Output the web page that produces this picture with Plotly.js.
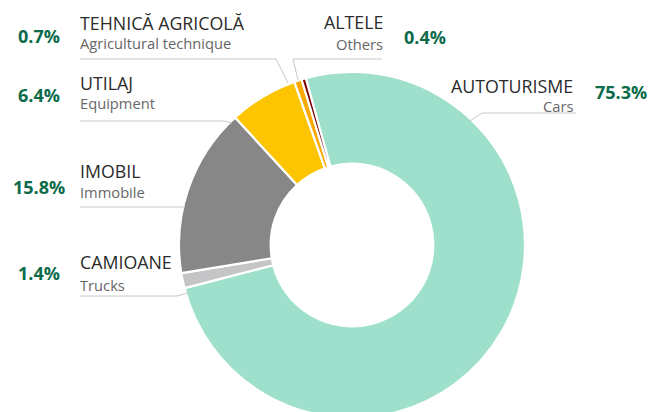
<!DOCTYPE html>
<html>
<head>
<meta charset="utf-8">
<script src="https://cdn.plot.ly/plotly-3.0.1.min.js"></script>
<style>
html,body{margin:0;padding:0;overflow:hidden;background:#fff;}
#chart{width:652px;height:420px;}
</style>
</head>
<body>
<div id="chart"></div>
<script>
// Data
const labelsRo = ["AUTOTURISME", "CAMIOANE", "IMOBIL", "UTILAJ", "TEHNICĂ AGRICOLĂ", "ALTELE"];
const labelsEn = ["Cars", "Trucks", "Immobile", "Equipment", "Agricultural technique", "Others"];
const values = [75.3, 1.4, 15.8, 6.4, 0.7, 0.4];
const colors = ["#9fe0cc", "#c5c5c7", "#878787", "#fdc400", "#f9a900", "#7a0000"];

const W = 652, H = 420;
const px = x => x / W;
const py = y => 1 - y / H;

// label placement (pixels): [textX, anchor, catY, subY, pctX, pctY]
const place = [
  [575, "right", 86.5, 105.5, 621, 92],
  [78, "left", 262, 284.5, 39, 273],
  [78, "left", 171, 192, 39, 186.5],
  [78, "left", 83, 102.5, 39, 95],
  [78, "left", 22.5, 43, 39, 35.5],
  [385, "right", 21.5, 44.5, 425, 36.5]
];
// leader lines (pixels)
const leaders = [
  [[576, 113], [482, 113], [470, 121]],
  [[80, 296], [177, 296], [188, 293]],
  [[80, 207], [185, 207]],
  [[80, 121], [224, 121], [232, 123]],
  [[80, 59], [276, 59], [288, 83]],
  [[382, 59], [293, 59], [298, 80]]
];

const annotations = [];
labelsRo.forEach((lab, i) => {
  const p = place[i];
  annotations.push({xref: "paper", yref: "paper", x: px(p[0]), y: py(p[2]), xanchor: p[1], yanchor: "middle",
    text: lab, showarrow: false, font: {family: "Open Sans", size: 17.8, color: "#2b2b2b"}});
  annotations.push({xref: "paper", yref: "paper", x: px(p[0]), y: py(p[3]), xanchor: p[1], yanchor: "middle",
    text: labelsEn[i], showarrow: false, font: {family: "Open Sans", size: 14.7, color: "#666666"}});
  annotations.push({xref: "paper", yref: "paper", x: px(p[4]), y: py(p[5]), xanchor: "center", yanchor: "middle",
    text: "<b>" + values[i].toFixed(1) + "%</b>", showarrow: false, font: {family: "Open Sans", size: 18, color: "#0c6b4b"}});
});

const shapes = leaders.map(pts => ({
  type: "path", xref: "paper", yref: "paper",
  path: pts.map((p, k) => (k ? "L" : "M") + px(p[0]) + "," + py(p[1])).join(" "),
  line: {color: "#c8c8c8", width: 1}
}));

const trace = {
  type: "pie",
  labels: labelsRo,
  values: values,
  sort: false,
  direction: "clockwise",
  rotation: -15.5,
  hole: 0.47,
  marker: {colors: colors, line: {color: "#ffffff", width: 2.2}},
  textinfo: "none",
  hoverinfo: "none",
  showlegend: false,
  domain: {x: [px(179), px(525)], y: [py(418), py(72)]}
};

Plotly.newPlot("chart", [trace], {
  width: W, height: H,
  margin: {l: 0, r: 0, t: 0, b: 0},
  paper_bgcolor: "#ffffff",
  showlegend: false,
  annotations: annotations,
  shapes: shapes
}, {displayModeBar: false, staticPlot: true});
</script>
</body>
</html>
